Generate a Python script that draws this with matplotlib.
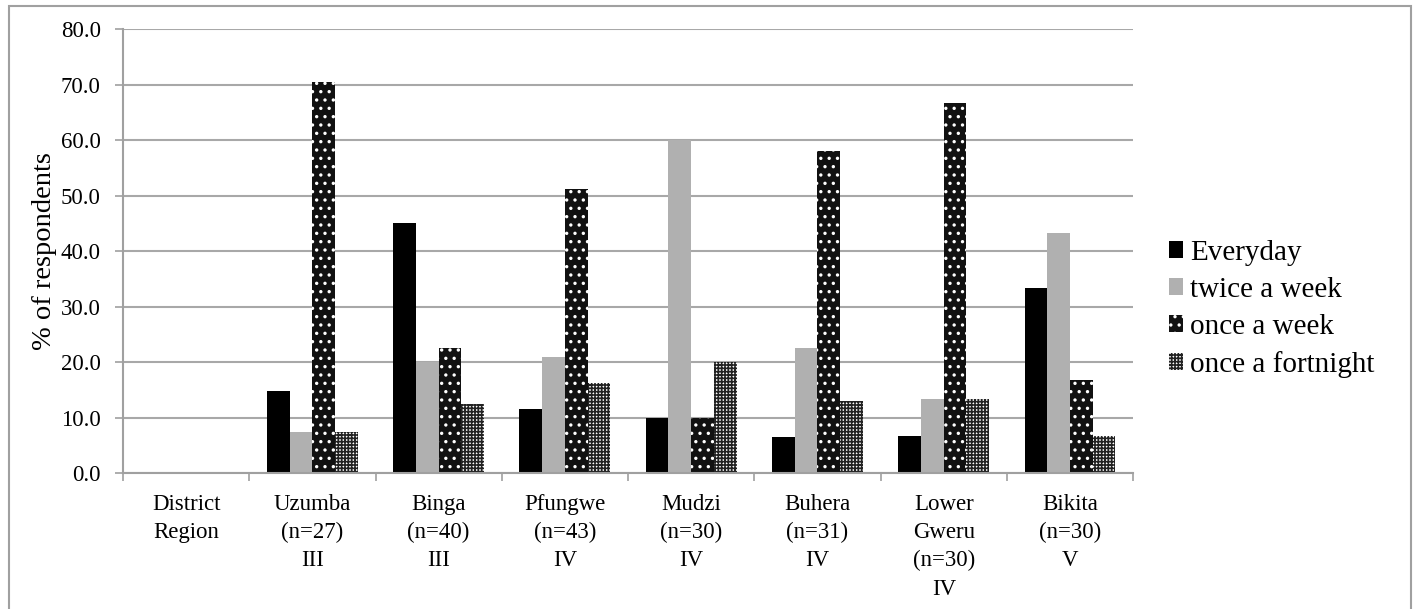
import matplotlib.pyplot as plt
import numpy as np
from matplotlib.patches import Rectangle

plt.rcParams['font.family'] = ['Liberation Serif', 'DejaVu Serif']
plt.rcParams['hatch.linewidth'] = 1.2

# data
districts = ['District\nRegion', 'Uzumba\n(n=27)\nIII', 'Binga\n(n=40)\nIII',
             'Pfungwe\n(n=43)\nIV', 'Mudzi\n(n=30)\nIV', 'Buhera\n(n=31)\nIV',
             'Lower\nGweru\n(n=30)\nIV', 'Bikita\n(n=30)\nV']
everyday = [0, 14.8, 45.0, 11.6, 10.0, 6.5, 6.7, 33.3]
twice_week = [0, 7.4, 20.0, 20.9, 60.0, 22.6, 13.3, 43.3]
once_week = [0, 70.4, 22.5, 51.2, 10.0, 58.1, 66.7, 16.7]
once_fortnight = [0, 7.4, 12.5, 16.3, 20.0, 12.9, 13.3, 6.7]
series_names = ['Everyday', 'twice a week', 'once a week', 'once a fortnight']

fig = plt.figure(figsize=(14.2, 6.09), dpi=100)
# outer frame
fig.patches.append(Rectangle((0.006, -0.01), 0.988, 1.0, transform=fig.transFigure,
                             fill=False, edgecolor='#a0a0a0', linewidth=1.5))
ax = fig.add_axes([0.0866, 0.2233, 0.7114, 0.7287])

x = np.arange(len(districts))
w = 0.18
styles = [dict(color='black'),
          dict(color='#b0b0b0'),
          dict(color='#111111', hatch='..', edgecolor='white', linewidth=0),
          dict(color='white', hatch='+++++', edgecolor='#222222', linewidth=0)]
data = [everyday, twice_week, once_week, once_fortnight]
handles = []
for i, (vals, st) in enumerate(zip(data, styles)):
    b = ax.bar(x + (i - 1.5) * w, vals, w, label=series_names[i], **st)
    handles.append(b)

ax.set_xlim(-0.5, len(districts) - 0.5)
ax.set_ylim(0, 80)
ax.set_yticks(np.arange(0, 81, 10))
ax.set_yticklabels(['%.1f' % v for v in np.arange(0, 81, 10)], fontsize=16.5)
ax.set_xticks(x)
ax.set_xticklabels(districts, fontsize=16.5, linespacing=1.45)
ax.set_xticks(np.arange(-0.5, len(districts), 1), minor=True)
ax.tick_params(axis='x', which='major', length=0, pad=15)
ax.tick_params(axis='x', which='minor', length=6, color='#a0a0a0', width=1.2)
ax.tick_params(axis='y', length=6, color='#a0a0a0', width=1.2, pad=10)
ax.set_ylabel('% of respondents', fontsize=20.5)
ax.yaxis.set_label_coords(-0.065, 0.5)

ax.yaxis.grid(True, color='#a8a8a8', linewidth=1.5)
ax.set_axisbelow(True)
for s in ['top', 'right']:
    ax.spines[s].set_visible(False)
for s in ['left', 'bottom']:
    ax.spines[s].set_color('#a0a0a0')
    ax.spines[s].set_linewidth(1.5)

ax.legend(handles=handles, loc='center left', bbox_to_anchor=(1.035, 0.37),
          frameon=False, fontsize=21, handlelength=0.5, handleheight=0.5,
          handletextpad=0.25, labelspacing=0.38, borderpad=0, borderaxespad=0)

fig.savefig('out.png', dpi=100)
